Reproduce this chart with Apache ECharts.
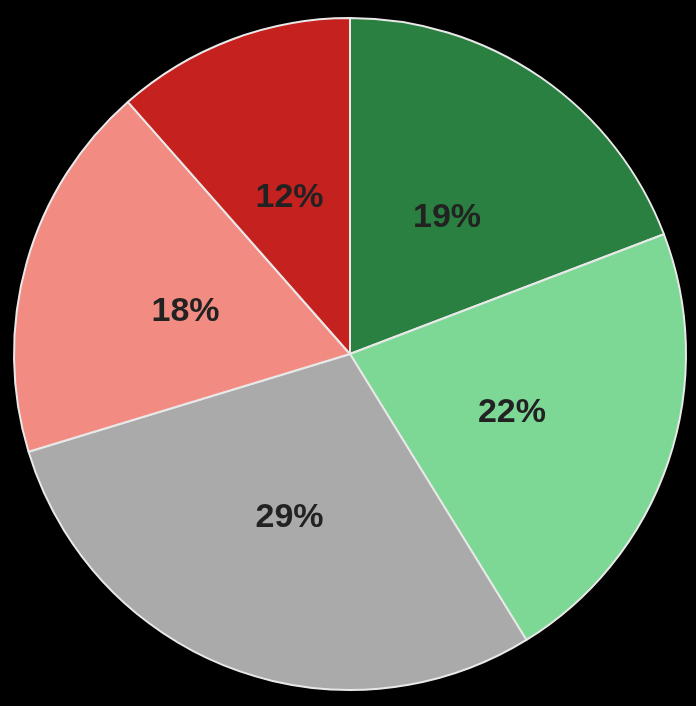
<!DOCTYPE html>
<html><head><meta charset="utf-8">
<script src="https://cdn.jsdelivr.net/npm/echarts@6/dist/echarts.min.js"></script>
<style>html,body{margin:0;padding:0;background:#000;}#c{width:696px;height:706px;}</style>
</head><body><div id="c"></div>
<script>
const values = [19.2, 22.0, 29.1, 18.2, 11.5];
const labels = ['19%', '22%', '29%', '18%', '12%'];
const colors = ['#2a8040', '#7dd795', '#aaaaaa', '#f28b82', '#c5221f'];
const chart = echarts.init(document.getElementById('c'), null, {renderer: 'canvas'});
chart.setOption({
  backgroundColor: '#000',
  animation: false,
  series: [{
    type: 'pie',
    center: [350, 354],
    radius: [0, 336],
    startAngle: 90,
    clockwise: true,
    data: values.map((v, i) => ({value: v, name: labels[i], itemStyle: {color: colors[i]}})),
    itemStyle: {borderColor: '#e8e8e8', borderWidth: 2},
    label: {
      show: true, position: 'inside', formatter: '{b}', offset: [0, 4],
      fontFamily: 'Liberation Sans, Arial, sans-serif', fontWeight: 'bold', fontSize: 34, color: '#222'
    },
    labelLine: {show: false},
    emphasis: {disabled: true}
  }]
});
</script></body></html>
